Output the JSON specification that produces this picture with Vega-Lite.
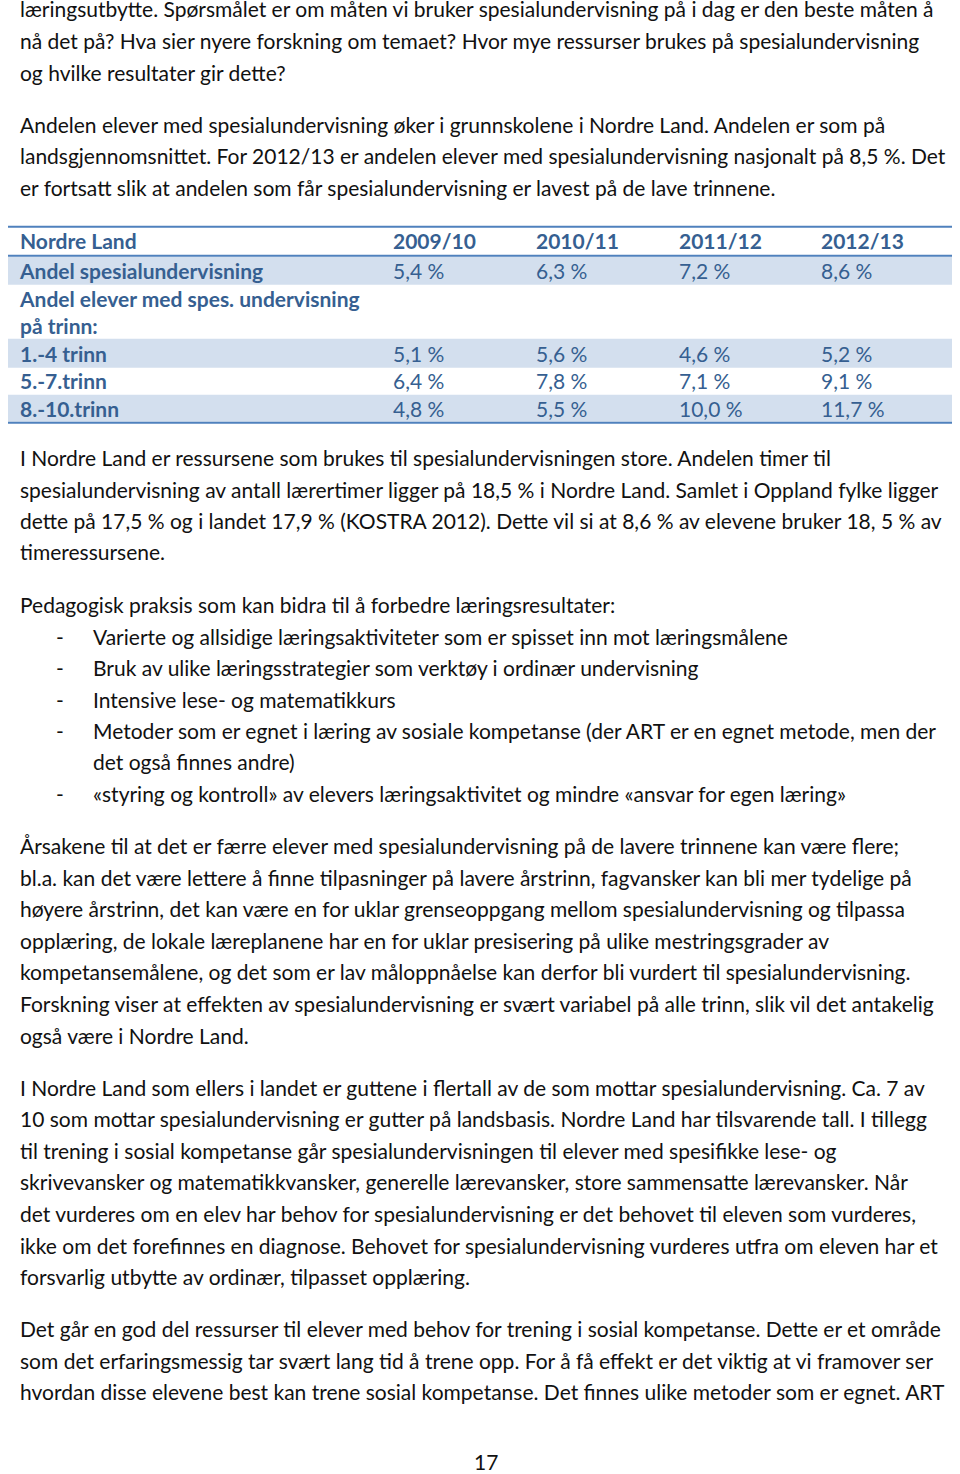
{
  "$schema": "https://vega.github.io/schema/vega-lite/v6.json",
  "width": 960,
  "height": 1474,
  "padding": 0,
  "autosize": {"type": "fit", "contains": "padding"},
  "background": "white",
  "config": {"view": {"stroke": null}, "axis": {"disable": true}},
  "datasets": {
    "bands": [{"top": 257, "bottom": 285}, {"top": 339, "bottom": 368}, {"top": 395, "bottom": 422}],
    "rules": [{"y": 227}, {"y": 256}, {"y": 423}],
    "body": [
      {"y": 17, "x": 20, "text": "læringsutbytte. Spørsmålet er om måten vi bruker spesialundervisning på i dag er den beste måten å"},
      {"y": 49, "x": 20, "text": "nå det på? Hva sier nyere forskning om temaet? Hvor mye ressurser brukes på spesialundervisning"},
      {"y": 81, "x": 20, "text": "og hvilke resultater gir dette?"},
      {"y": 133, "x": 20, "text": "Andelen elever med spesialundervisning øker i grunnskolene i Nordre Land. Andelen er som på"},
      {"y": 164, "x": 20, "text": "landsgjennomsnittet. For 2012/13 er andelen elever med spesialundervisning nasjonalt på 8,5 %. Det"},
      {"y": 196, "x": 20, "text": "er fortsatt slik at andelen som får spesialundervisning er lavest på de lave trinnene."},
      {"y": 466, "x": 20, "text": "I Nordre Land er ressursene som brukes til spesialundervisningen store. Andelen timer til"},
      {"y": 498, "x": 20, "text": "spesialundervisning av antall lærertimer ligger på 18,5 % i Nordre Land. Samlet i Oppland fylke ligger"},
      {"y": 529, "x": 20, "text": "dette på 17,5 % og i landet 17,9 % (KOSTRA 2012). Dette vil si at 8,6 % av elevene bruker 18, 5 % av"},
      {"y": 560, "x": 20, "text": "timeressursene."},
      {"y": 613, "x": 20, "text": "Pedagogisk praksis som kan bidra til å forbedre læringsresultater:"},
      {"y": 645, "x": 56, "text": "-"},
      {"y": 645, "x": 93, "text": "Varierte og allsidige læringsaktiviteter som er spisset inn mot læringsmålene"},
      {"y": 676, "x": 56, "text": "-"},
      {"y": 676, "x": 93, "text": "Bruk av ulike læringsstrategier som verktøy i ordinær undervisning"},
      {"y": 708, "x": 56, "text": "-"},
      {"y": 708, "x": 93, "text": "Intensive lese- og matematikkurs"},
      {"y": 740, "x": 56, "text": "-"},
      {"y": 740, "x": 93, "text": "Metoder som er egnet i læring av sosiale kompetanse (der ART er en egnet metode, men der"},
      {"y": 771, "x": 93, "text": "det også finnes andre)"},
      {"y": 803, "x": 56, "text": "-"},
      {"y": 803, "x": 93, "text": "«styring og kontroll» av elevers læringsaktivitet og mindre «ansvar for egen læring»"},
      {"y": 855, "x": 20, "text": "Årsakene til at det er færre elever med spesialundervisning på de lavere trinnene kan være flere;"},
      {"y": 887, "x": 20, "text": "bl.a. kan det være lettere å finne tilpasninger på lavere årstrinn, fagvansker kan bli mer tydelige på"},
      {"y": 918, "x": 20, "text": "høyere årstrinn, det kan være en for uklar grenseoppgang mellom spesialundervisning og tilpassa"},
      {"y": 950, "x": 20, "text": "opplæring, de lokale læreplanene har en for uklar presisering på ulike mestringsgrader av"},
      {"y": 981, "x": 20, "text": "kompetansemålene, og det som er lav måloppnåelse kan derfor bli vurdert til spesialundervisning."},
      {"y": 1013, "x": 20, "text": "Forskning viser at effekten av spesialundervisning er svært variabel på alle trinn, slik vil det antakelig"},
      {"y": 1045, "x": 20, "text": "også være i Nordre Land."},
      {"y": 1097, "x": 20, "text": "I Nordre Land som ellers i landet er guttene i flertall av de som mottar spesialundervisning. Ca. 7 av"},
      {"y": 1128, "x": 20, "text": "10 som mottar spesialundervisning er gutter på landsbasis. Nordre Land har tilsvarende tall. I tillegg"},
      {"y": 1160, "x": 20, "text": "til trening i sosial kompetanse går spesialundervisningen til elever med spesifikke lese- og"},
      {"y": 1191, "x": 20, "text": "skrivevansker og matematikkvansker, generelle lærevansker, store sammensatte lærevansker. Når"},
      {"y": 1223, "x": 20, "text": "det vurderes om en elev har behov for spesialundervisning er det behovet til eleven som vurderes,"},
      {"y": 1255, "x": 20, "text": "ikke om det forefinnes en diagnose. Behovet for spesialundervisning vurderes utfra om eleven har et"},
      {"y": 1286, "x": 20, "text": "forsvarlig utbytte av ordinær, tilpasset opplæring."},
      {"y": 1338, "x": 20, "text": "Det går en god del ressurser til elever med behov for trening i sosial kompetanse. Dette er et område"},
      {"y": 1370, "x": 20, "text": "som det erfaringsmessig tar svært lang tid å trene opp. For å få effekt er det viktig at vi framover ser"},
      {"y": 1401, "x": 20, "text": "hvordan disse elevene best kan trene sosial kompetanse. Det finnes ulike metoder som er egnet. ART"},
      {"y": 1471, "x": 474, "text": "17"}
    ],
    "tableBold": [
      {"y": 249, "x": 20, "text": "Nordre Land"},
      {"y": 249, "x": 393, "text": "2009/10"},
      {"y": 249, "x": 536, "text": "2010/11"},
      {"y": 249, "x": 679, "text": "2011/12"},
      {"y": 249, "x": 821, "text": "2012/13"},
      {"y": 279, "x": 20, "text": "Andel spesialundervisning"},
      {"y": 307, "x": 20, "text": "Andel elever med spes. undervisning"},
      {"y": 334, "x": 20, "text": "på trinn:"},
      {"y": 362, "x": 20, "text": "1.-4 trinn"},
      {"y": 389, "x": 20, "text": "5.-7.trinn"},
      {"y": 417, "x": 20, "text": "8.-10.trinn"}
    ],
    "tableValues": [
      {"y": 279, "x": 393, "text": "5,4 %"},
      {"y": 279, "x": 536, "text": "6,3 %"},
      {"y": 279, "x": 679, "text": "7,2 %"},
      {"y": 279, "x": 821, "text": "8,6 %"},
      {"y": 362, "x": 393, "text": "5,1 %"},
      {"y": 362, "x": 536, "text": "5,6 %"},
      {"y": 362, "x": 679, "text": "4,6 %"},
      {"y": 362, "x": 821, "text": "5,2 %"},
      {"y": 389, "x": 393, "text": "6,4 %"},
      {"y": 389, "x": 536, "text": "7,8 %"},
      {"y": 389, "x": 679, "text": "7,1 %"},
      {"y": 389, "x": 821, "text": "9,1 %"},
      {"y": 417, "x": 393, "text": "4,8 %"},
      {"y": 417, "x": 536, "text": "5,5 %"},
      {"y": 417, "x": 679, "text": "10,0 %"},
      {"y": 417, "x": 821, "text": "11,7 %"}
    ]
  },
  "layer": [
    {
      "data": {"name": "bands"},
      "mark": {"type": "rect", "color": "#D3DFEE"},
      "encoding": {
        "x": {"datum": 8, "type": "quantitative", "scale": {"domain": [0, 960], "nice": false, "zero": false}},
        "x2": {"datum": 952},
        "y": {"field": "top", "type": "quantitative", "scale": {"domain": [0, 1474], "reverse": true, "nice": false, "zero": false}},
        "y2": {"field": "bottom"}
      }
    },
    {
      "data": {"name": "rules"},
      "mark": {"type": "rule", "color": "#4F81BD", "strokeWidth": 2},
      "encoding": {
        "x": {"datum": 8, "type": "quantitative"},
        "x2": {"datum": 952},
        "y": {"field": "y", "type": "quantitative"}
      }
    },
    {
      "data": {"name": "body"},
      "mark": {"type": "text", "font": "Lato", "fontSize": 21, "align": "left", "baseline": "alphabetic", "color": "#111111"},
      "encoding": {
        "x": {"field": "x", "type": "quantitative"},
        "y": {"field": "y", "type": "quantitative"},
        "text": {"field": "text"}
      }
    },
    {
      "data": {"name": "tableBold"},
      "mark": {"type": "text", "font": "Lato", "fontSize": 21, "fontWeight": "bold", "align": "left", "baseline": "alphabetic", "color": "#365F91"},
      "encoding": {
        "x": {"field": "x", "type": "quantitative"},
        "y": {"field": "y", "type": "quantitative"},
        "text": {"field": "text"}
      }
    },
    {
      "data": {"name": "tableValues"},
      "mark": {"type": "text", "font": "Lato", "fontSize": 21, "align": "left", "baseline": "alphabetic", "color": "#365F91"},
      "encoding": {
        "x": {"field": "x", "type": "quantitative"},
        "y": {"field": "y", "type": "quantitative"},
        "text": {"field": "text"}
      }
    }
  ]
}
